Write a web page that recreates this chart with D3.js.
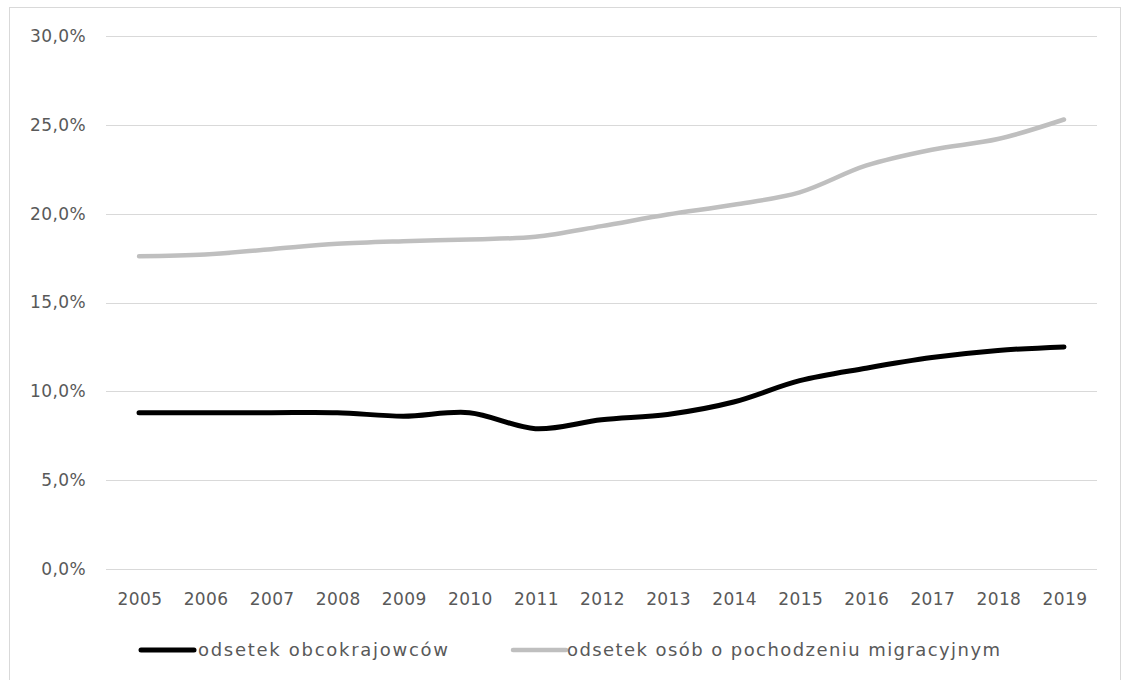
<!DOCTYPE html>
<html>
<head>
<meta charset="utf-8">
<script src="https://cdn.jsdelivr.net/npm/d3@7"></script>
<style>
  body { margin: 0; background: #fff; }
  svg text { font-family: "DejaVu Sans", sans-serif; fill: #595959; }
</style>
</head>
<body>
<div id="chart"></div>
<script>
const years = ["2005", "2006", "2007", "2008", "2009", "2010", "2011", "2012", "2013", "2014", "2015", "2016", "2017", "2018", "2019"];
const obcokrajowcy = [8.8, 8.8, 8.8, 8.8, 8.6, 8.8, 7.9, 8.4, 8.7, 9.4, 10.6, 11.3, 11.9, 12.3, 12.5];
const migracyjne = [17.6, 17.7, 18.0, 18.3, 18.45, 18.55, 18.7, 19.3, 19.95, 20.5, 21.2, 22.7, 23.6, 24.2, 25.3];
const yTicks = [0, 5, 10, 15, 20, 25, 30];
const seriesNames = ["odsetek obcokrajowców", "odsetek osób o pochodzeniu migracyjnym"];

const width = 1122, height = 680;
const margin = { top: 36, right: 25, bottom: 111, left: 106 };

const svg = d3.select("#chart")
  .append("svg")
  .attr("width", width).attr("height", height);

// ramka wykresu
svg.append("rect")
  .attr("x", 9.5).attr("y", 7.5)
  .attr("width", 1111).attr("height", 690)
  .attr("fill", "none").attr("stroke", "#d9d9d9");

const x = d3.scaleBand()
  .domain(years)
  .range([margin.left, width - margin.right]);

const y = d3.scaleLinear()
  .domain([0, 30])
  .range([height - margin.bottom, margin.top]);

const fmt = v => d3.format(".1f")(v).replace(".", ",") + "%";

// siatka
svg.append("g")
  .selectAll("line")
  .data(yTicks)
  .join("line")
  .attr("x1", margin.left).attr("x2", width - margin.right)
  .attr("y1", d => Math.round(y(d)) + 0.5).attr("y2", d => Math.round(y(d)) + 0.5)
  .attr("stroke", "#d9d9d9");

svg.append("g")
  .selectAll("text")
  .data(yTicks)
  .join("text")
  .attr("x", 86).attr("y", d => y(d))
  .attr("dy", "0.35em")
  .attr("text-anchor", "end")
  .style("font-size", "17px")
  .style("letter-spacing", "0.4px")
  .text(fmt);

svg.append("g")
  .selectAll("text")
  .data(years)
  .join("text")
  .attr("x", d => x(d) + x.bandwidth() / 2 + 1)
  .attr("y", 599)
  .attr("dy", "0.35em")
  .attr("text-anchor", "middle")
  .style("font-size", "17px")
  .style("letter-spacing", "0.4px")
  .text(d => d);

const line = d3.line()
  .x((d, i) => x(years[i]) + x.bandwidth() / 2)
  .y(d => y(d))
  .curve(d3.curveCatmullRom.alpha(0.5));

const series = [
  { name: seriesNames[0], values: obcokrajowcy, color: "#000000", w: 5 },
  { name: seriesNames[1], values: migracyjne, color: "#bfbfbf", w: 4.5 }
];

svg.append("g")
  .selectAll("path")
  .data(series)
  .join("path")
  .attr("d", d => line(d.values))
  .attr("fill", "none")
  .attr("stroke", d => d.color)
  .attr("stroke-width", d => d.w)
  .attr("stroke-linecap", "round")
  .attr("stroke-linejoin", "round");

// Legenda
const legendPos = [{ x: 141, tx: 198, tw: 250 }, { x: 513, tx: 567, tw: 433 }];
const legend = svg.append("g");
series.forEach((s, i) => {
  const p = legendPos[i];
  legend.append("line")
    .attr("x1", p.x).attr("x2", p.x + 53)
    .attr("y1", 650).attr("y2", 650)
    .attr("stroke", s.color).attr("stroke-width", s.w)
    .attr("stroke-linecap", "round");
  legend.append("text")
    .attr("x", p.tx).attr("y", 650)
    .attr("dy", "0.35em")
    .attr("textLength", p.tw)
    .attr("lengthAdjust", "spacing")
    .style("font-size", "18px")
    .text(s.name);
});
</script>
</body>
</html>
